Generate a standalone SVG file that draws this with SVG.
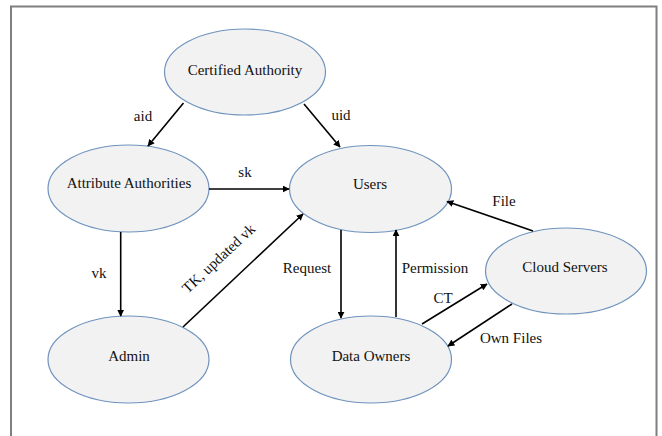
<svg xmlns="http://www.w3.org/2000/svg" width="662" height="436" viewBox="0 0 662 436">
<defs>
<marker id="ah" viewBox="0 0 10 10" refX="9" refY="5" markerWidth="7" markerHeight="7" markerUnits="userSpaceOnUse" orient="auto">
<path d="M0,0 L10,5 L0,10 z" fill="#000"/>
</marker>
<style>
.node ellipse{fill:#f2f2f2;stroke:#6f93bd;stroke-width:1.2}
.node text{font-family:"Liberation Serif","Times New Roman",serif;font-size:15px;fill:#111;text-anchor:middle}
.edges line{stroke:#000;stroke-width:1.6;marker-end:url(#ah)}
.lbl{font-family:"Liberation Serif","Times New Roman",serif;font-size:15px;fill:#111;text-anchor:middle}
</style>
</defs>
<rect x="0" y="0" width="662" height="436" fill="#fff"/>
<rect x="11" y="6.5" width="645.5" height="440" fill="none" stroke="#7f7f7f" stroke-width="2"/>
<g id="certified-authority" class="node"><ellipse cx="245" cy="72" rx="80.5" ry="43"/><text x="245" y="75">Certified Authority</text></g>
<g id="attribute-authorities" class="node"><ellipse cx="128.5" cy="188.5" rx="80.5" ry="43.5"/><text x="129" y="188">Attribute Authorities</text></g>
<g id="users" class="node"><ellipse cx="370.5" cy="189" rx="81" ry="43.5"/><text x="370" y="189">Users</text></g>
<g id="admin" class="node"><ellipse cx="128.5" cy="359.5" rx="80.5" ry="43.5"/><text x="129" y="361">Admin</text></g>
<g id="data-owners" class="node"><ellipse cx="371" cy="359.5" rx="80.5" ry="43.5"/><text x="371" y="361">Data Owners</text></g>
<g id="cloud-servers" class="node"><ellipse cx="566" cy="271" rx="80.5" ry="43"/><text x="565" y="272">Cloud Servers</text></g>
<g id="connectors" class="edges">
<line x1="183.5" y1="103" x2="148" y2="146"/>
<line x1="304" y1="104" x2="340" y2="147"/>
<line x1="209" y1="189" x2="289" y2="189"/>
<line x1="120.7" y1="232" x2="120.7" y2="316"/>
<line x1="183" y1="327" x2="303" y2="214"/>
<line x1="341" y1="230" x2="341" y2="318"/>
<line x1="396" y1="317" x2="396" y2="230"/>
<line x1="533" y1="231" x2="447" y2="201.5"/>
<line x1="422" y1="324" x2="487" y2="284"/>
<line x1="512" y1="304" x2="448" y2="346"/>
</g>
<g id="labels">
<text class="lbl" x="143" y="121">aid</text>
<text class="lbl" x="341" y="120">uid</text>
<text class="lbl" x="245" y="177">sk</text>
<text class="lbl" x="504" y="206">File</text>
<text class="lbl" x="99" y="278">vk</text>
<text class="lbl" x="222" y="262" transform="rotate(-43 222 262)">TK, updated vk</text>
<text class="lbl" x="307" y="273">Request</text>
<text class="lbl" x="435" y="273">Permission</text>
<text class="lbl" x="443" y="303">CT</text>
<text class="lbl" x="511" y="343">Own Files</text>
</g>
</svg>
